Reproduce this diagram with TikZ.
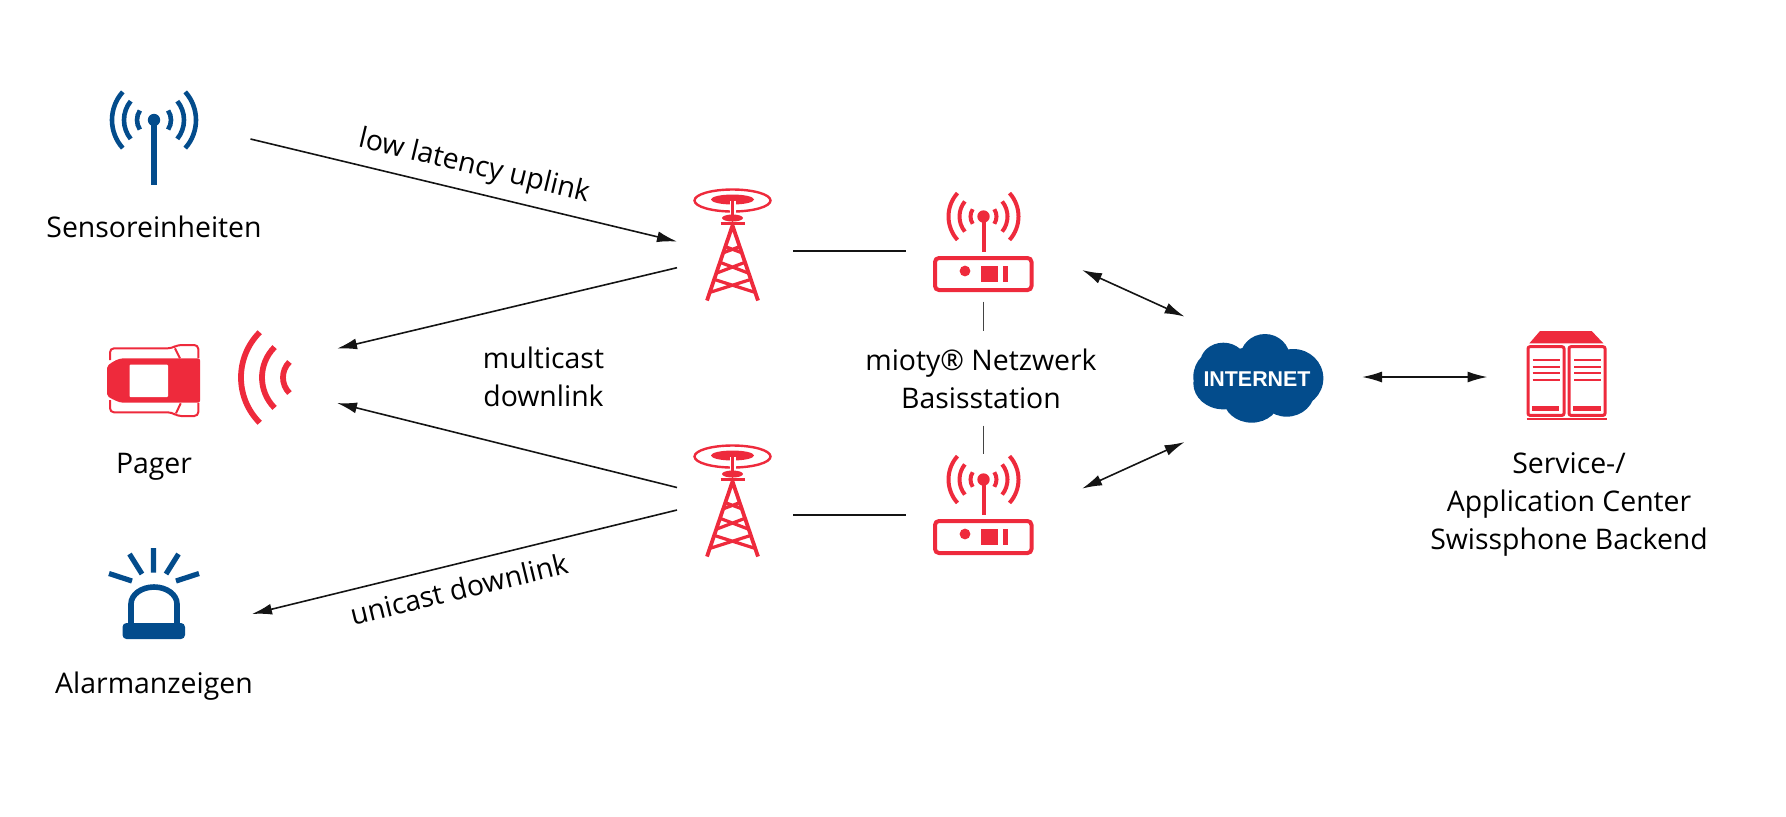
\documentclass[tikz,border=0pt]{standalone}
\usepackage{fontspec}
\setmainfont{Open Sans}
\newfontfamily\inetfont{Liberation Sans}
\usetikzlibrary{arrows.meta}
\definecolor{brandred}{HTML}{EE2A3C}
\definecolor{brandblue}{HTML}{034C8C}
\definecolor{linegray}{HTML}{141414}
\tikzset{
  px/.style={x=0.5pt,y=-0.5pt},
  lbl/.style={font=\fontsize{14.2}{19}\selectfont,text=black,align=center,inner sep=0pt},
  conn/.style={draw=linegray,line width=0.8pt,-{Latex[length=10pt,width=5.5pt]}},
  conntwo/.style={draw=linegray,line width=0.8pt,{Latex[length=10pt,width=5.5pt]}-{Latex[length=10pt,width=5.5pt]}},
  plain/.style={draw=linegray,line width=0.85pt},
  thinline/.style={draw=linegray!80,line width=0.5pt}
}
\newcommand{\radiosym}[7]{%
  \begin{scope}[shift={(#1,#2)},draw=#3,line width=#7]
    \foreach \rr/\aa in {#4/42,#5/39,#6/34}{
      \draw ({\rr*cos(\aa)},{-\rr*sin(\aa)}) arc[start angle=\aa,end angle=-\aa,x radius=\rr,y radius=-\rr];
      \draw ({-\rr*cos(\aa)},{-\rr*sin(\aa)}) arc[start angle=180-\aa,end angle=180+\aa,x radius=\rr,y radius=-\rr];
    }
    \fill[#3] (0,0) circle[radius=6.2];
  \end{scope}}
\newcommand{\towersym}[2]{%
  \begin{scope}[shift={(#1,#2)},brandred]
    \draw[line width=1.2pt] (0,0) ellipse[x radius=38,y radius=11];
    \fill (0,-1) ellipse[x radius=21.5,y radius=5];
    \draw[white,line width=3pt] (0,0) -- (0,15);
    \draw[line width=1.8pt] (0,-1) -- (0,15);
    \fill (0,17.5) ellipse[x radius=10.5,y radius=3.5];
    \draw[line width=1.5pt] (-12,22.5) -- (12,22.5);
    \draw[line width=1.9pt,line join=miter] (-25.5,100) -- (0,25) -- (25.5,100);
    \draw[line width=1.6pt]
      (-7.5,46) -- (8.5,52) (7.5,46) -- (-8.5,52)
      (-12,62) -- (17,73) (12,62) -- (-17,73)
      (-18,79) -- (23,92) (18,79) -- (-23,92);
  \end{scope}}
\newcommand{\routersym}[2]{%
  \radiosym{#1}{#2}{brandred}{35}{24}{13}{2pt}
  \begin{scope}[shift={(#1,#2)},brandred]
    \draw[line width=2pt] (0,0) -- (0,35);
    \draw[line width=2pt,rounded corners=2pt] (-48.5,41.5) rectangle (48,73.5);
    \fill (-18.5,54.5) circle[radius=5.4];
    \fill (-3,49) rectangle (14,65.5);
    \fill (19,49) rectangle (24,65.5);
  \end{scope}}
\begin{document}
\begin{tikzpicture}[px]
\useasboundingbox (0,0) rectangle (1786,816);
% coordinates of connector ends
\coordinate (s1) at (250.5,139);
\coordinate (t1in) at (677,241.5);
\coordinate (t1out) at (677,267.7);
\coordinate (p1) at (337,348.6);
\coordinate (t2a) at (677,487.5);
\coordinate (p2) at (337,403);
\coordinate (t2b) at (677,510);
\coordinate (al) at (252,614);
\coordinate (t1r) at (793,251);
\coordinate (r1l) at (905.5,251);
\coordinate (t2r) at (793,515);
\coordinate (r2l) at (905.5,515);
\coordinate (r1v) at (983.3,301.7);
\coordinate (tv) at (983.3,330.7);
\coordinate (bv) at (983.3,425.7);
\coordinate (r2v) at (983.3,454);
\coordinate (r1e) at (1082,270);
\coordinate (c1) at (1184.6,316.6);
\coordinate (r2e) at (1082,488.6);
\coordinate (c2) at (1184.6,442);
\coordinate (c3) at (1362,377);
\coordinate (srv) at (1487.5,377);
% connectors
\draw[conn] (s1) -- (t1in);
\draw[conn] (t1out) -- (p1);
\draw[conn] (t2a) -- (p2);
\draw[conn] (t2b) -- (al);
\draw[plain] (t1r) -- (r1l);
\draw[plain] (t2r) -- (r2l);
\draw[thinline] (r1v) -- (tv);
\draw[thinline] (bv) -- (r2v);
\draw[conntwo] (r1e) -- (c1);
\draw[conntwo] (r2e) -- (c2);
\draw[conntwo] (c3) -- (srv);
% sensor
\radiosym{154}{120}{brandblue}{42}{30}{17}{2.3pt}
\draw[brandblue,line width=2.7pt] (154,120) -- (154,185);
% pager car
\begin{scope}[brandred]
  \fill[rounded corners=1pt] (107,380) -- (107,366) -- (114,361) -- (121,358.3) -- (200,358.3) -- (200,402.7) -- (121,402.7) -- (114,400) -- (107,396) -- cycle;
  \fill[white,rounded corners=0.5pt] (129.5,364.5) rectangle (168,397);
  \draw[line width=1pt,rounded corners=2pt] (110,360) -- (110,348.3) -- (171.7,348.3) -- (177.3,345) -- (198.3,345) -- (198.3,358);
  \draw[line width=1pt,rounded corners=2pt] (110,400) -- (110,412.3) -- (171.7,412.3) -- (177.3,416) -- (198.3,416) -- (198.3,403);
  \draw[line width=1pt] (175,348.3) -- (180,358.3) (180.7,403.3) -- (176,413.3);
  \foreach \rr in {64,43,22}{
    \draw[line width=2.9pt] ({305-\rr*cos(45)},{377.5-\rr*sin(45)}) arc[start angle=-135,end angle=-225,x radius=\rr,y radius=\rr];
  }
\end{scope}
% alarm
\begin{scope}[brandblue]
  \fill[rounded corners=2pt] (122.5,623) rectangle (185,639);
  \draw[line width=2.8pt] (131,624) -- (131,604) arc[start angle=180,end angle=0,x radius=23,y radius=-17] -- (177,624);
  \draw[line width=2.6pt] (153.5,548) -- (153.5,572.5) (129.5,554) -- (142,574) (178.5,554) -- (166,574) (109,573.5) -- (132,581) (199,573.5) -- (176,581);
\end{scope}
% towers and routers
\towersym{732.5}{200.5}
\towersym{732.5}{456.5}
\routersym{983.5}{216.5}
\routersym{983.5}{479.5}
% cloud
\begin{scope}[shift={(1180,320)},x=0.16667pt,y=-0.16667pt]
  \fill[brandblue]
    (125,170) ellipse[x radius=85,y radius=85]
    (130,130) ellipse[x radius=70,y radius=62]
    (255,115) ellipse[x radius=75,y radius=73]
    (340,175) ellipse[x radius=90,y radius=88]
    (320,210) ellipse[x radius=85,y radius=80]
    (215,235) ellipse[x radius=85,y radius=73]
    (130,190) ellipse[x radius=90,y radius=78]
    (230,180) ellipse[x radius=150,y radius=100];
\end{scope}
\node[inner sep=0pt,text=white,font=\inetfont\bfseries\fontsize{10.7}{12}\selectfont] (inet) at (1257,379) {INTERNET};
% server
\begin{scope}[shift={(1510,320)},brandred,x=0.16667pt,y=-0.16667pt]
  \fill (90,33) -- (245,33) -- (280,70) -- (58,70) -- cycle;
  \draw[line width=1.5pt,rounded corners=1pt] (54,80) rectangle (162,286);
  \draw[line width=1.5pt,rounded corners=1pt] (177,80) rectangle (285,286);
  \foreach \xx in {0,124}{
    \foreach \yy in {120,140,160,180}{\draw[line width=.9pt] (68+\xx,\yy) -- (150+\xx,\yy);}
    \fill (65+\xx,258) rectangle (148+\xx,272);
  }
  \draw[line width=1.2pt] (50,297) -- (290,297);
\end{scope}
% labels
\node[lbl] (l1) at (154,227) {Sensoreinheiten};
\node[lbl] (l2) at (154,466.5) {Pager};
\node[lbl] (l3) at (154,686) {Alarmanzeigen};
\node[lbl] (l4) at (543.5,377) {multicast\\downlink};
\node[lbl] (l5) at (981,379) {mioty® Netzwerk\\Basisstation};
\node[lbl] (l6) at (1569,504.5) {Service-/\\Application Center\\Swissphone Backend};
\node[lbl,rotate=-13.5] (l7) at (474,167) {low latency uplink};
\node[lbl,rotate=13.7] (l8) at (459,589) {unicast downlink};
\end{tikzpicture}
\end{document}
